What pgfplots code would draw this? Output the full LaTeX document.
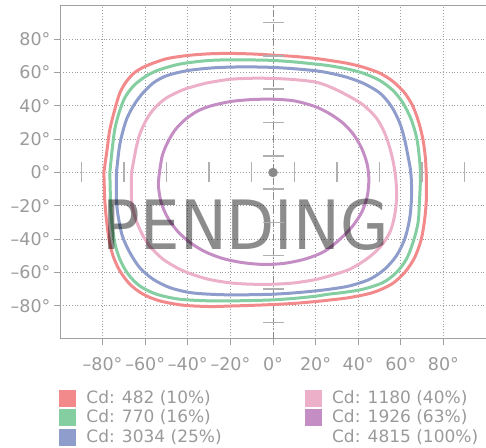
\documentclass[border=0pt]{standalone}
\usepackage{fontspec}
\setmainfont{DejaVu Sans}
\usepackage{pgfplots}
\pgfplotsset{compat=1.18}
\definecolor{cRed}{HTML}{F28A8C}
\definecolor{cGreen}{HTML}{84CEA2}
\definecolor{cBlue}{HTML}{8E9DCB}
\definecolor{cPink}{HTML}{ECB0C9}
\definecolor{cPurple}{HTML}{C48EC4}
\definecolor{lblgray}{HTML}{9A9A9A}
\definecolor{axgray}{HTML}{A0A0A0}
\definecolor{gridgray}{HTML}{9C9C9C}
\definecolor{tickgray}{HTML}{B0B0B0}
\definecolor{dotgray}{HTML}{8A8A8A}
\begin{document}
\begin{tikzpicture}
\begin{axis}[name=ax,
  width=426pt, height=333pt, scale only axis,
  xmin=-100, xmax=100, ymin=-100, ymax=100,
  axis lines=left,
  axis line style={-, draw=axgray, line width=1pt},
  xtick={-80,-60,...,80}, ytick={-80,-60,...,80},
  xticklabels={–80°,–60°,–40°,–20°,0°,20°,40°,60°,80°},
  yticklabels={–80°,–60°,–40°,–20°,0°,20°,40°,60°,80°},
  tick align=outside, major tick length=6pt,
  tick style={draw=axgray, line width=0.8pt},
  ticklabel style={font=\fontsize{17.5}{20}\selectfont, text=lblgray},
  xticklabel style={yshift=-9pt},
  grid=major,
  grid style={draw=gridgray, line width=0.9pt, dash pattern=on 0.9pt off 2pt},
  legend columns=2,
  legend cell align=left,
  legend image code/.code={\fill[#1] (0pt,-8pt) rectangle (16pt,8pt);},
  legend style={at={(rel axis cs:0,0)}, anchor=north west, xshift=-1pt, yshift=-50.7pt,
    draw=none, fill=none, inner sep=0pt, outer sep=0pt, row sep=3pt,
    font=\fontsize{17}{19}\selectfont, text=lblgray,
    nodes={inner sep=0pt, text height=13.5pt, text depth=2.5pt},
    /tikz/every odd column/.append style={column sep=11pt},
    /tikz/every even column/.append style={column sep=83pt}},
]
% x = 0 dash-dot line
\addplot[forget plot, draw=dotgray, line width=0.9pt, dash pattern=on 7pt off 3pt on 1pt off 3pt] coordinates {(0,-100) (0,100)};
% cross tick marks
\addplot[forget plot, only marks, mark=-, mark size=10.5pt, mark options={draw=tickgray, line width=1.5pt}]
  coordinates {(0,-90)(0,-70)(0,-50)(0,-30)(0,-10)(0,10)(0,30)(0,50)(0,70)(0,90)};
\addplot[forget plot, only marks, mark=|, mark size=10pt, mark options={draw=tickgray, line width=1.5pt}]
  coordinates {(-90,0)(-70,0)(-50,0)(-30,0)(-10,0)(10,0)(30,0)(50,0)(70,0)(90,0)};
% centre point
\addplot[forget plot, only marks, mark=*, mark size=4.5pt, color=dotgray] coordinates {(0,0)};
% 10%
\addplot[forget plot, color=cRed, line width=3pt, smooth, tension=0.5] coordinates {
(-79.4,0) (-77.9,13.8) (-76.6,25.8) (-74.3,37.7) (-71.9,47.8) (-68.8,54.7) (-64.9,60.1) (-59.4,64.1) (-50,68.3) (-39.9,70.3) (-29.7,71.3) (-20,71.5) (-10,71.2) (0,70.5) (10,69.7) (20,68.5) (26.6,67.3) (34.4,65.7) (42.2,63.3) (50.1,59.7) (56.3,54.7) (61.8,47.8) (65.7,39.7) (68.5,29.8) (70.4,19.8) (71.6,8) (72,-4) (72,-16.2) (71.2,-28.2) (69.6,-40.1) (66.5,-51.1) (61.8,-60.1) (55.6,-67.1) (46.9,-72.1) (36,-75.1) (26.6,-76.6) (20,-77.5) (10,-78.6) (0,-79.3) (-10,-79.8) (-20,-80.2) (-29.7,-80.5) (-42.2,-79.7) (-53.2,-77.1) (-61,-73.1) (-67.2,-67.1) (-71.9,-59.1) (-75.1,-50.1) (-77,-40.1) (-78.2,-28.2) (-79,-16.2) (-79.4,0)};
% 16%
\addplot[forget plot, color=cGreen, line width=3pt, smooth, tension=0.5] coordinates {
(-76.6,0) (-75.5,13.8) (-74.3,25.8) (-72.3,35.8) (-69.6,44.8) (-65.7,51.7) (-61,56.7) (-54.7,61.1) (-45.3,64.7) (-37.5,66.3) (-29.7,67.3) (-20,67.7) (-10,67.6) (0,67.3) (10,66.4) (20,65.1) (26.6,64.1) (34.4,62.3) (42.2,59.7) (50.1,55.3) (56.3,49.3) (61,41.8) (64.9,31.8) (67.3,21.7) (68.3,13.8) (69.1,3) (69.2,-5) (68.8,-16.2) (68.1,-30.1) (65.7,-42.1) (62.6,-52.1) (57.9,-60.1) (51.6,-66.1) (42.2,-70.1) (32.8,-72.1) (26.6,-73) (20,-74.3) (10,-75.6) (0,-76.5) (-10,-76.9) (-20,-77.1) (-29.7,-77.1) (-43.8,-76.1) (-54.7,-73.1) (-62.6,-68.1) (-68,-61.1) (-71.9,-52.1) (-74.3,-42.1) (-75.8,-28.2) (-76.3,-16.2) (-76.6,0)};
% 25%
\addplot[forget plot, color=cBlue, line width=3pt, smooth, tension=0.5] coordinates {
(-73.5,0) (-72.3,13.8) (-71.1,21.7) (-68.8,31.8) (-65.7,39.7) (-61.8,46.7) (-56.3,53.7) (-50,58.1) (-40.6,61.1) (-29.7,62.7) (-20,63.3) (-10,63.4) (0,63.1) (10,62.3) (20,61.1) (26.6,59.7) (34.4,57.3) (42.2,53.7) (50.1,47.8) (55.6,39.7) (59.5,29.8) (61.8,19.8) (63.2,11) (64.5,2) (65,-6) (65,-16.2) (64.1,-28.2) (61.8,-40.1) (57.9,-50.1) (52.4,-58.1) (45.4,-64.1) (36,-68.1) (26.6,-70.1) (20,-71.1) (10,-72.3) (0,-73.1) (-10,-73.4) (-20,-73.5) (-29.7,-73.1) (-39.1,-72.1) (-48.5,-69.1) (-56.3,-64.1) (-62.6,-57.1) (-67.2,-48.1) (-70.7,-38.2) (-72.7,-26.2) (-73.5,-16.2) (-73.5,0)};
% 40%
\addplot[forget plot, color=cPink, line width=3pt, smooth, tension=0.5] coordinates {
(-66.4,0) (-64.4,13.8) (-62.6,22.8) (-59.4,31.8) (-55.5,38.8) (-50,44.8) (-42.2,49.7) (-34.4,52.7) (-29.7,54.1) (-20,56) (-10,56.6) (0,56.5) (10,55.8) (20,54.3) (26.6,51.5) (34.4,46.7) (42.2,40.7) (48.5,32.8) (52.4,23.8) (55,14) (56.8,4) (57.8,-6) (58,-16) (57,-26.5) (54.8,-36.1) (50.1,-45.1) (43.8,-52.1) (36,-58.1) (26.6,-62.1) (20,-64.3) (10,-66.3) (0,-67.1) (-10,-67.1) (-20,-66.3) (-29.7,-64.3) (-36.5,-61.8) (-43.8,-58.1) (-51.6,-52.1) (-57.9,-44.2) (-61.8,-36.1) (-64.9,-26.2) (-66.4,-16.2) (-66.4,0)};
% 63%
\addplot[forget plot, color=cPurple, line width=3pt, smooth, tension=0.5] coordinates {
(-53.3,0) (-52,10) (-49.5,18) (-46,25.5) (-41.5,31.5) (-36,36.5) (-29.7,39.8) (-20,42.6) (-10,43.8) (0,44) (10,43) (20,39.5) (27,35) (33,29.5) (38,22.5) (41.8,14) (44.2,5) (45,-4) (44.3,-14) (41.8,-23.5) (37.5,-32) (31.5,-40) (24,-47.5) (15,-52) (5,-54.6) (-5,-55.2) (-15,-54) (-24,-51.5) (-32,-47.5) (-39,-42) (-45,-35) (-49.5,-27) (-52.5,-18) (-53.8,-8) (-53.3,0)};
% legend
\addlegendimage{color=cRed}\addlegendentry{Cd: 482 (10\%)}
\addlegendimage{color=cPink}\addlegendentry{Cd: 1180 (40\%)}
\addlegendimage{color=cGreen}\addlegendentry{Cd: 770 (16\%)}
\addlegendimage{color=cPurple}\addlegendentry{Cd: 1926 (63\%)}
\addlegendimage{color=cBlue}\addlegendentry{Cd: 3034 (25\%)}
\addlegendimage{empty legend}\addlegendentry{Cd: 4815 (100\%)}
% top frame line
\draw[draw=axgray, line width=1pt] (rel axis cs:0,1) -- (rel axis cs:1,1);
% watermark
\node[anchor=base, inner sep=0pt, font=\fontsize{68}{68}\selectfont, text=black, text opacity=0.45, xscale=0.92] at (axis cs:-12.8,-46.1) {PENDING};
\end{axis}
\pgfresetboundingbox
\path[use as bounding box] ([shift={(-60pt,-109pt)}]ax.south west) rectangle ([shift={(0pt,6pt)}]ax.north east);
\end{tikzpicture}
\end{document}
